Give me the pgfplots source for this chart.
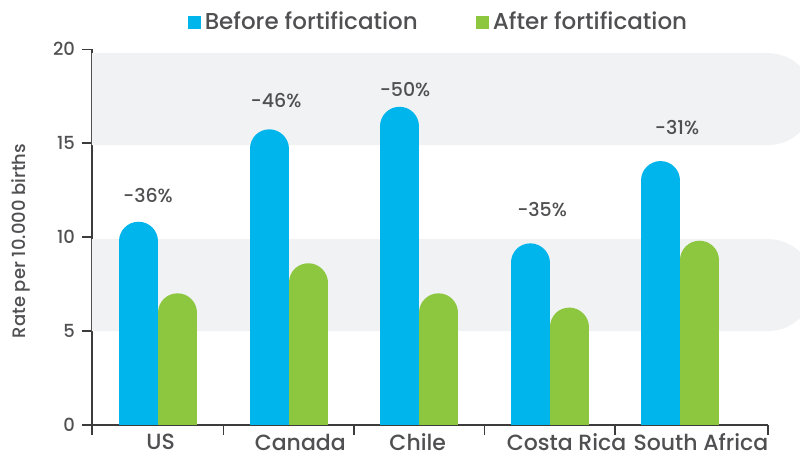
\documentclass[border=0pt]{standalone}
\usepackage{fontspec}
\setmainfont{Poppins}[UprightFont={* Medium}]
\usepackage{pgfplots}
\pgfplotsset{compat=1.18}
\definecolor{cblue}{HTML}{00B5EC}
\definecolor{cgreen}{HTML}{8DC63F}
\definecolor{band}{HTML}{F1F2F4}
\definecolor{txt}{HTML}{505052}
\definecolor{axc}{HTML}{3C3C3C}
\begin{document}
\begin{tikzpicture}
\useasboundingbox (0,0) rectangle (400pt,227pt);
\begin{axis}[
  at={(46pt,14.5pt)}, anchor=south west,
  scale only axis, width=338pt, height=187.85pt,
  xmin=-0.506, xmax=4.674, ymin=0, ymax=20,
  axis x line*=bottom, axis y line*=left,
  axis line style={draw=axc, line width=0.75pt},
  every tick/.style={draw=axc, line width=0.75pt},
  tick align=outside, major tick length=5pt,
  ytick={0,5,10,15,20},
  /pgf/number format/assume math mode=true,
  yticklabel style={font=\fontsize{9}{11}\selectfont, text=txt},
  xtick={-0.506,0.5,1.5,2.5,3.5,4.674}, xticklabels={},
  extra x ticks={0.02,1.09,1.99,3.13,4.16},
  extra x tick labels={US,Canada,Chile,Costa Rica,South Africa},
  extra x tick style={major tick length=0pt, tick label style={font=\fontsize{11}{13}\selectfont, text=txt, inner sep=0pt, yshift=-4.2pt}},
  ylabel={Rate per 10.000 births},
  ylabel style={font=\fontsize{9}{11}\selectfont, text=txt, at={(axis description cs:-0.1045,0.49)}, anchor=center},
  clip mode=individual,
  legend style={draw=none, fill=none, at={(axis description cs:0.514,1.072)}, anchor=center,
    font=\fontsize{11.5}{13}\selectfont, text=txt,
    /tikz/every even column/.append style={column sep=27pt}},
  legend columns=2,
]
\fill[band] (axis cs:-0.506,14.9) -- (axis cs:4.674,14.9) arc[start angle=-90, end angle=90, radius=23pt] -- (axis cs:-0.506,19.8) -- cycle;
\fill[band] (axis cs:-0.506,5.0) -- (axis cs:4.674,5.0) arc[start angle=-90, end angle=90, radius=23pt] -- (axis cs:-0.506,9.9) -- cycle;
\addplot[ycomb, draw=cblue, line width=19.5pt, line cap=round, xshift=-9.75pt,
  y filter/.expression={y-1.038},
  legend image code/.code={\path[fill=cblue, draw=none, line width=0pt] (0pt,-3.25pt) rectangle (6.5pt,3.25pt);}]
  coordinates {(0,10.82) (1,15.74) (2,16.94) (3,9.67) (4,14.05)};
\addlegendentry{Before fortification}
\addplot[ycomb, draw=cgreen, line width=19.5pt, line cap=round, xshift=9.75pt,
  y filter/.expression={y-1.038},
  legend image code/.code={\path[fill=cgreen, draw=none, line width=0pt] (0pt,-3.25pt) rectangle (6.5pt,3.25pt);}]
  coordinates {(0,7.01) (1,8.61) (2,7.01) (3,6.25) (4,9.81)};
\addlegendentry{After fortification}
\node[font=\fontsize{9.5}{11}\selectfont, text=txt] at (axis cs:-0.077,12.24) {-36\%};
\node[font=\fontsize{9.5}{11}\selectfont, text=txt] at (axis cs:0.904,17.25) {-46\%};
\node[font=\fontsize{9.5}{11}\selectfont, text=txt] at (axis cs:1.893,17.83) {-50\%};
\node[font=\fontsize{9.5}{11}\selectfont, text=txt] at (axis cs:2.943,11.45) {-35\%};
\node[font=\fontsize{9.5}{11}\selectfont, text=txt] at (axis cs:3.977,15.86) {-31\%};
\end{axis}
\end{tikzpicture}
\end{document}
